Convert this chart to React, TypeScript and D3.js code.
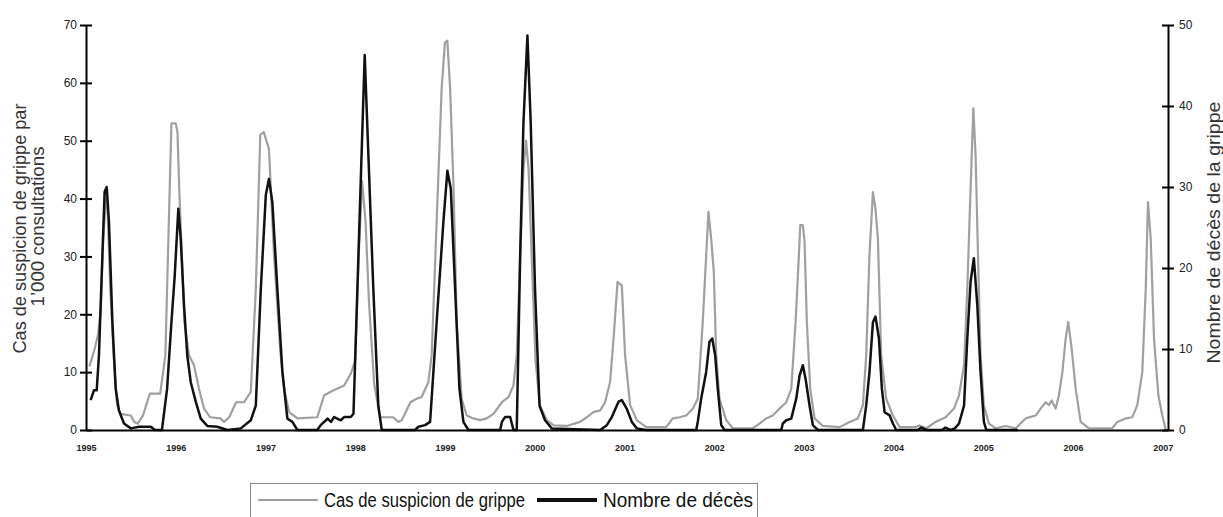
import React, { useEffect, useRef } from "react";
import * as d3 from "d3";

// semaines depuis le début de 1995 (52 par année)
const years = ["1995", "1996", "1997", "1998", "1999", "2000", "2001", "2002", "2003", "2004", "2005", "2006", "2007"];
const weeksPerYear = 52;
const lastWeek = 627;

const leftTicks = [0, 10, 20, 30, 40, 50, 60, 70];
const rightTicks = [0, 10, 20, 30, 40, 50];

// Cas de suspicion de grippe par 1'000 consultations : [semaine, valeur]
const casGrippe: [number, number][] = [
  [2, 11], [5, 14], [7, 16.5], [8.5, 20.5], [10, 33], [11.5, 40], [12.5, 38], [14, 25], [16, 13], [18, 4.3],
  [20, 2.8], [26, 2.5], [28, 1.4], [30, 1.1], [33, 2.5], [37, 6.3], [43, 6.3], [46, 13], [48, 36], [49.5, 53],
  [52, 53], [53, 51.5], [54, 42], [57, 18.7], [59.7, 12.9], [62.6, 11.2], [65.5, 7.1], [68.4, 3.7], [72, 2.2], [78, 2],
  [80, 1.4], [83, 2.2], [87, 4.8], [91.6, 4.8], [95.5, 6.6], [98.4, 24.4], [101, 51], [103, 51.5], [106, 48.6], [109, 30],
  [112.8, 12.9], [114.8, 7.1], [117.7, 3.1], [122.5, 2], [134, 2.2], [138, 6], [143.8, 6.9], [149.6, 7.7], [153.4, 9.7], [156, 12],
  [158, 30], [160, 43], [162, 36], [164, 22], [167, 8], [170.4, 2.2], [178, 2.2], [181, 1.4], [183, 1.7], [188, 4.8],
  [191.6, 5.4], [194.5, 5.7], [198.4, 8.3], [200.3, 12.9], [203.2, 36], [206.1, 59], [208, 67], [209.4, 67.3], [211, 59], [213, 41.7],
  [214.8, 18.7], [217.7, 5.4], [220.6, 2.5], [224.5, 2], [228.4, 1.7], [232.2, 2], [236.1, 2.8], [241, 4.8], [244.8, 5.7], [247.7, 7.7],
  [249.6, 12.9], [251.6, 30], [253.5, 45], [255, 50], [256.5, 45], [258.5, 28], [260.5, 12], [263, 4.3], [267, 1.7], [271, 0.8], [278.6, 0.7],
  [286.3, 1.4], [290.2, 2.2], [294, 3.1], [298, 3.4], [300.8, 4.8], [303.7, 8.3], [305.7, 15.8], [308, 25.6], [310.5, 25], [312.4, 12.9],
  [315.3, 4.3], [319.2, 1.7], [324.6, 0.5], [336.2, 0.5], [340, 2], [344, 2.2], [347.8, 2.5], [351.7, 3.7], [354.5, 5.4], [357.4, 18.7],
  [359.4, 30.2], [360.7, 37.7], [362.3, 33], [363.8, 27.3], [365.2, 12.9], [367.1, 5.4], [371, 1.7], [374.8, 0.3], [386.4, 0.3], [390.3, 1.1],
  [394.2, 2], [398, 2.5], [401.9, 3.7], [405.8, 4.8], [408.7, 7.1], [411.2, 18.7], [413.1, 30.2], [413.9, 35.4], [415.4, 35.4], [416.4, 32.5],
  [417.7, 18.7], [419.7, 7.1], [422.2, 2], [427, 0.7], [436.7, 0.5], [442.5, 1.4], [447.3, 2], [450.2, 4.3], [452.1, 12.9], [454, 30.2],
  [456, 41.1], [457.5, 38.2], [458.9, 33], [460.8, 12.9], [463.7, 5.4], [467.6, 2.5], [471.5, 0.5], [481, 0.5], [482.7, 0.8], [487, 0.3],
  [492.3, 1.4], [498.1, 2.2], [503, 3.7], [505.9, 6], [508.8, 11.2], [510.7, 24.4], [512.6, 41.7], [514.2, 55.6], [515.5, 47.5], [516.9, 30.2],
  [518.4, 12.9], [520.3, 4.3], [523.2, 1.1], [527.1, 0.3], [532.9, 0.7], [538.7, 0.3], [544.5, 2], [550.3, 2.5], [553.2, 3.7], [556.1, 4.8],
  [558, 4.3], [559.6, 5.1], [561.9, 3.7], [563.8, 6], [565.8, 10], [567.7, 15.8], [569.2, 18.7], [571.2, 14], [573.5, 7.1], [576.4, 1.4],
  [581.2, 0.3], [594.7, 0.3], [597.6, 1.4], [602.5, 2], [606.3, 2.2], [609.2, 4.3], [612.1, 10], [614.1, 24.4], [615.4, 39.4], [617, 33],
  [618.9, 15.8], [621.4, 6], [623.7, 2.5], [625.7, 0],
];

// Nombre de décès de la grippe : [semaine, valeur]
const decesGrippe: [number, number][] = [
  [2.7, 3.7], [4.6, 4.9], [6.2, 4.9], [7.5, 9.2], [9.5, 21.6], [10.8, 29.4], [12, 30], [13.3, 25.7], [15.3, 13.3], [17.2, 5.1],
  [19.1, 2.4], [22, 0.8], [26, 0.2], [30.7, 0.4], [37.5, 0.4], [40, 0], [44, 0], [47, 5.1], [49.5, 13.3], [51.4, 19],
  [53.5, 27.3], [54.9, 23.6], [56.8, 15.4], [58.7, 9.2], [60.7, 5.9], [63.6, 3.5], [66.5, 1.4], [70.3, 0.5], [76, 0.4], [82, 0],
  [89.7, 0.2], [95.5, 1.2], [98.4, 3], [101.3, 17.4], [104.2, 29], [106, 31], [108, 28.1], [110.9, 17.4], [113.8, 7.2], [116.7, 1.4],
  [119.6, 1], [122.5, 0], [134, 0], [136, 0.6], [140, 1.4], [142, 1], [143.8, 1.6], [147.6, 1.2], [149.6, 1.6], [153.4, 1.6],
  [155, 2], [161.5, 46.3], [166.5, 17.4], [169.4, 3], [171.4, 0], [190.7, 0], [192.6, 0.4], [196.5, 0.6], [199.4, 1], [203.2, 13.3],
  [207.1, 25.7], [209.4, 32], [211.4, 29.8], [213.9, 17.4], [216.4, 5.1], [218.7, 1], [221.6, 0], [240, 0], [241, 1], [242.9, 1.6],
  [245.8, 1.6], [247.7, 0], [249.6, 0], [251.6, 21.6], [253.5, 38], [255.8, 48.7], [257.7, 38], [260.2, 17.4], [262.8, 3], [266, 1.2],
  [269.9, 0.2], [298, 0], [301.8, 0.6], [304.7, 1.6], [308.6, 3.5], [310.5, 3.7], [313.4, 2.6], [316.3, 1], [319.2, 0.2], [324.6, 0],
  [353.6, 0], [354.5, 1], [356.5, 3.9], [359.4, 7.2], [361.3, 10.9], [362.9, 11.3], [364.6, 9.2], [366.1, 5.1], [368.1, 0.6], [370, 0],
  [402.9, 0], [403.8, 0.8], [405.8, 1.2], [408.7, 1.4], [411.6, 3.9], [413.5, 6.7], [415.4, 8], [417, 6.3], [419.3, 3], [421.2, 0.6],
  [424.1, 0], [450.2, 0], [452.1, 3], [454, 7.1], [456, 13.3], [457.5, 14], [459.5, 11.3], [461.2, 5.1], [462.8, 2.2], [465.7, 1.8],
  [467.6, 0.8], [469.5, 0], [482, 0], [484, 0.3], [487, 0], [496, 0], [498, 0.3], [501, 0], [503.5, 0.2], [505.9, 0.8],
  [508.8, 3], [510.7, 11.3], [512.6, 18.3], [514.5, 21.2], [516.5, 15.4], [518.4, 7.1], [520.3, 1], [521.7, 0], [540, 0],
];

const font = "'Liberation Sans', Arial, sans-serif";

export default function App() {
  const ref = useRef<SVGSVGElement>(null);

  useEffect(() => {
    const svg = d3.select(ref.current);
    svg.selectAll("*").remove();

    const width = 1223,
      height = 517,
      margin = { top: 25, right: 55, bottom: 87, left: 86 };

    const x = d3
      .scaleLinear()
      .domain([0, lastWeek])
      .range([margin.left, width - margin.right]);

    const yL = d3
      .scaleLinear()
      .domain([0, 70])
      .range([height - margin.bottom, margin.top]);

    const yR = d3
      .scaleLinear()
      .domain([0, 50])
      .range([height - margin.bottom, margin.top]);

    const chart = svg.attr("width", width).attr("height", height);

    const lineL = d3
      .line<[number, number]>()
      .x((d) => x(d[0]))
      .y((d) => yL(d[1]));
    const lineR = d3
      .line<[number, number]>()
      .x((d) => x(d[0]))
      .y((d) => yR(d[1]));

    chart
      .append("path")
      .datum(casGrippe)
      .attr("d", lineL)
      .attr("fill", "none")
      .attr("stroke", "#a0a0a0")
      .attr("stroke-width", 2.2)
      .attr("stroke-linejoin", "round");

    chart
      .append("path")
      .datum(decesGrippe)
      .attr("d", lineR)
      .attr("fill", "none")
      .attr("stroke", "#111")
      .attr("stroke-width", 2.5)
      .attr("stroke-linejoin", "round");

    // axe x
    const gx = chart
      .append("g")
      .attr("transform", `translate(0,${height - margin.bottom})`)
      .call(
        d3
          .axisBottom(x)
          .tickValues(years.map((_, i) => i * weeksPerYear))
          .tickFormat((_, i) => years[i])
          .tickSize(0)
          .tickSizeOuter(0)
          .tickPadding(15)
      );
    gx.select(".domain").attr("stroke", "#000").attr("stroke-width", 2);
    gx.selectAll("text")
      .attr("font-family", font)
      .attr("font-size", 9)
      .attr("font-weight", "bold")
      .attr("fill", "#222");

    // axe gauche
    const gl = chart
      .append("g")
      .attr("transform", `translate(${margin.left},0)`)
      .call(d3.axisLeft(yL).tickValues(leftTicks).tickSizeInner(6).tickSizeOuter(0).tickPadding(3));
    gl.select(".domain").attr("stroke", "#000").attr("stroke-width", 2);
    gl.selectAll(".tick line").attr("x1", 6).attr("stroke", "#000").attr("stroke-width", 2);
    gl.selectAll("text").attr("font-family", font).attr("font-size", 12).attr("fill", "#222");

    // axe droit
    const gr = chart
      .append("g")
      .attr("transform", `translate(${width - margin.right},0)`)
      .call(d3.axisRight(yR).tickValues(rightTicks).tickSizeInner(6).tickSizeOuter(0).tickPadding(5));
    gr.select(".domain").attr("stroke", "#000").attr("stroke-width", 2);
    gr.selectAll(".tick line").attr("x1", -6).attr("stroke", "#000").attr("stroke-width", 2);
    gr.selectAll("text").attr("font-family", font).attr("font-size", 12).attr("fill", "#222");

    // titres des axes
    const midY = (yL(0) + yL(70)) / 2;
    chart
      .append("text")
      .attr("transform", `translate(26,${midY + 1}) rotate(-90)`)
      .attr("text-anchor", "middle")
      .attr("font-family", font)
      .attr("font-size", 19)
      .attr("fill", "#333")
      .attr("textLength", 250)
      .attr("lengthAdjust", "spacingAndGlyphs")
      .text("Cas de suspicion de grippe par");
    chart
      .append("text")
      .attr("transform", `translate(44,${midY - 1}) rotate(-90)`)
      .attr("text-anchor", "middle")
      .attr("font-family", font)
      .attr("font-size", 19)
      .attr("fill", "#333")
      .attr("textLength", 160)
      .attr("lengthAdjust", "spacingAndGlyphs")
      .text("1\u2019000 consultations");

    chart
      .append("text")
      .attr("transform", `translate(1220,${midY + 5}) rotate(-90)`)
      .attr("text-anchor", "middle")
      .attr("font-family", font)
      .attr("font-size", 19)
      .attr("fill", "#333")
      .attr("textLength", 262)
      .attr("lengthAdjust", "spacingAndGlyphs")
      .text("Nombre de d\u00e9c\u00e8s de la grippe");

    // légende
    const lg = chart.append("g");
    lg.append("rect")
      .attr("x", 250.5)
      .attr("y", 483.5)
      .attr("width", 507)
      .attr("height", 50)
      .attr("fill", "none")
      .attr("stroke", "#888")
      .attr("stroke-width", 1);
    lg.append("line")
      .attr("x1", 258).attr("x2", 318).attr("y1", 500).attr("y2", 500)
      .attr("stroke", "#a0a0a0").attr("stroke-width", 2);
    lg.append("text")
      .attr("x", 324).attr("y", 507)
      .attr("font-family", font).attr("font-size", 20).attr("fill", "#111")
      .attr("textLength", 201).attr("lengthAdjust", "spacingAndGlyphs")
      .text("Cas de suspicion de grippe");
    lg.append("line")
      .attr("x1", 537).attr("x2", 597).attr("y1", 500).attr("y2", 500)
      .attr("stroke", "#111").attr("stroke-width", 4);
    lg.append("text")
      .attr("x", 603).attr("y", 507)
      .attr("font-family", font).attr("font-size", 20).attr("fill", "#111")
      .attr("textLength", 150).attr("lengthAdjust", "spacingAndGlyphs")
      .text("Nombre de d\u00e9c\u00e8s");
  }, []);

  return (
    <div style={{ position: "absolute", left: 0, top: 0 }}>
      <svg ref={ref}></svg>
    </div>
  );
}
